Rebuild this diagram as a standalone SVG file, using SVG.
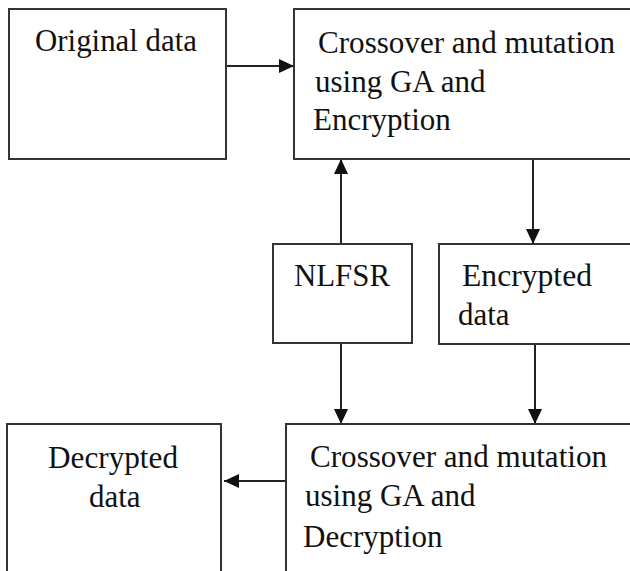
<svg xmlns="http://www.w3.org/2000/svg" width="630" height="571" viewBox="0 0 630 571">
<defs>
<style>
.box{fill:#fff;stroke:#333;stroke-width:2}
.t{font-family:"Liberation Serif","Times New Roman",serif;font-size:31px;fill:#111}
.c{stroke:#222;stroke-width:2;fill:none}
</style>
<marker id="ah" markerUnits="userSpaceOnUse" markerWidth="16" markerHeight="14" refX="15" refY="7" orient="auto">
<path d="M0,0 L15,7 L0,14 Z" fill="#111"/>
</marker>
</defs>
<rect width="630" height="571" fill="#fff"/>
<g id="connectors">
<line class="c" x1="226" y1="66" x2="294" y2="66" marker-end="url(#ah)"/>
<line class="c" x1="341" y1="244" x2="341" y2="159" marker-end="url(#ah)"/>
<line class="c" x1="533" y1="159" x2="533" y2="244" marker-end="url(#ah)"/>
<line class="c" x1="341" y1="343" x2="341" y2="424" marker-end="url(#ah)"/>
<line class="c" x1="535" y1="344" x2="535" y2="424" marker-end="url(#ah)"/>
<line class="c" x1="286" y1="481" x2="224" y2="481" marker-end="url(#ah)"/>
</g>
<g id="original">
<rect class="box" x="9" y="9" width="217" height="150"/>
<text class="t" x="35" y="51" textLength="162" lengthAdjust="spacingAndGlyphs">Original data</text>
</g>
<g id="encrypt">
<rect class="box" x="294" y="9" width="350" height="150"/>
<text class="t" x="318" y="53" textLength="297" lengthAdjust="spacingAndGlyphs">Crossover and mutation</text>
<text class="t" x="315" y="92">using GA and</text>
<text class="t" x="313" y="130">Encryption</text>
</g>
<g id="nlfsr">
<rect class="box" x="273" y="244" width="139" height="99"/>
<text class="t" x="294" y="286" textLength="96" lengthAdjust="spacingAndGlyphs">NLFSR</text>
</g>
<g id="encrypted">
<rect class="box" x="439" y="244" width="205" height="100"/>
<text class="t" x="462" y="286" textLength="130" lengthAdjust="spacingAndGlyphs">Encrypted</text>
<text class="t" x="458" y="325">data</text>
</g>
<g id="decrypt">
<rect class="box" x="286" y="424" width="358" height="160"/>
<text class="t" x="310" y="467" textLength="297" lengthAdjust="spacingAndGlyphs">Crossover and mutation</text>
<text class="t" x="305" y="506">using GA and</text>
<text class="t" x="303" y="547">Decryption</text>
</g>
<g id="decrypted">
<rect class="box" x="7" y="424" width="214" height="160"/>
<text class="t" x="48" y="468" textLength="130" lengthAdjust="spacingAndGlyphs">Decrypted</text>
<text class="t" x="89" y="507">data</text>
</g>
</svg>
